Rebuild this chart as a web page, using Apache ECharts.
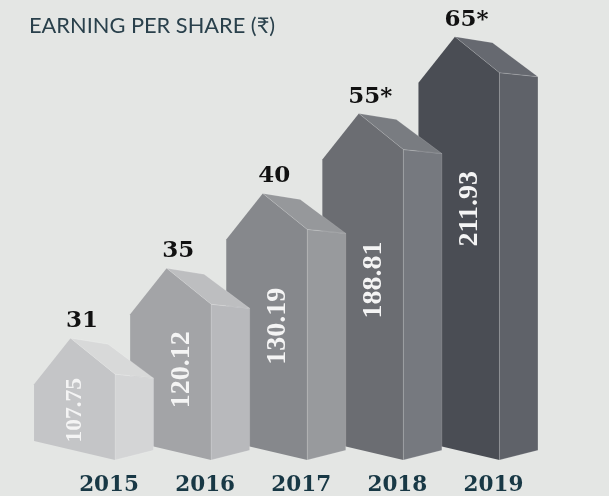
<!DOCTYPE html>
<html>
<head>
<meta charset="utf-8">
<script src="https://cdn.jsdelivr.net/npm/echarts@6/dist/echarts.min.js"></script>
<style>
html,body{margin:0;padding:0;background:#e4e6e4;}
#chart{width:609px;height:496px;}
</style>
</head>
<body>
<div id="chart"></div>
<script>
// ---- data ----
const years = ['2015', '2016', '2017', '2018', '2019'];
const epsValues = [107.75, 120.12, 130.19, 188.81, 211.93];
const topValues = [31, 35, 40, 55, 65];
const topMarks = ['', '', '', '*', '*'];
const houseHeights = [86, 156, 231, 311, 388];

// ---- styles ----
const frontColors = ['#c4c5c7', '#a3a4a7', '#86888c', '#6b6d72', '#4a4d54'];
const sideColors  = ['#d4d5d6', '#b8b9bc', '#989a9d', '#76797f', '#5f6269'];
const roofColors  = ['#d8d9d9', '#bdbec0', '#96989b', '#797c81', '#666970'];

const chart = echarts.init(document.getElementById('chart'), null, {renderer: 'canvas'});

function renderHouse(params, api) {
  const i = api.value(0);
  const h = api.value(1);
  const top = api.coord([i, h]);
  const base = api.coord([i, 0]);
  const bw = api.size([1, 0])[0];
  const s = bw / 96.1;
  const xr = top[0] + 6 * s;
  const ye = top[1];
  const yb = base[1];
  const hp = yb - ye;
  const fw = 81 * s, sw = 38.5 * s;
  const zb = (5 - i) * 10;
  const edge = 'rgba(255,255,255,0.22)';

  const front = [[xr - fw, yb - 19], [xr - fw, ye + 10], [xr - 44.5 * s, ye - 36], [xr, ye], [xr, yb]];
  const side = [[xr, ye], [xr + sw, ye + 4], [xr + sw, yb - 9.7], [xr, yb]];
  const roof = [[xr - 44.5 * s, ye - 36], [xr - 7 * s, ye - 30], [xr + sw, ye + 4], [xr, ye]];

  const small = hp < 100;
  const fs = small ? 23.5 : 28;
  const tx = xr - fw / 2 + (small ? 0 : 11 * s);
  const ty = ye + Math.min(0.42 * hp, 136);

  return {
    type: 'group',
    children: [
      {type: 'polygon', z2: zb + 1, shape: {points: front}, style: {fill: frontColors[i], stroke: null}},
      {type: 'polygon', z2: zb + 2, shape: {points: side}, style: {fill: sideColors[i], stroke: edge, lineWidth: 0.7}},
      {type: 'polygon', z2: zb + 3, shape: {points: roof}, style: {fill: roofColors[i], stroke: edge, lineWidth: 0.7}},
      {type: 'text', z2: zb + 5, x: tx, y: ty, rotation: Math.PI / 2,
        style: {text: epsValues[i].toFixed(2), x: 0, y: 0, align: 'center', verticalAlign: 'middle',
          fill: '#f4f4f4', font: 'bold ' + fs + 'px "Liberation Serif"'}},
      {type: 'text', z2: zb + 6,
        style: {text: topValues[i] + topMarks[i], x: xr - 33 * s, y: ye - 53, align: 'center', verticalAlign: 'middle',
          fill: '#111111', font: 'bold 23px "DejaVu Serif"'}}
    ]
  };
}

chart.setOption({
  backgroundColor: '#e4e6e4',
  animation: false,
  title: {
    text: 'EARNING PER SHARE (₹)',
    left: 29, top: 15, padding: 0,
    textStyle: {fontFamily: 'Lato', fontSize: 21.8, fontWeight: 'normal', color: '#29404b'}
  },
  grid: {left: 61, right: 67.5, top: 60.7, bottom: 35.3},
  xAxis: {
    type: 'category',
    data: years,
    axisLine: {show: false}, axisTick: {show: false}, splitLine: {show: false},
    axisLabel: {
      margin: 25, verticalAlign: 'middle',
      fontFamily: 'DejaVu Serif', fontWeight: 'bold', fontSize: 21.5, color: '#183845'
    }
  },
  yAxis: {type: 'value', min: 0, max: 400, show: false},
  series: [{
    type: 'custom',
    renderItem: renderHouse,
    data: houseHeights.map((h, i) => [i, h]),
    encode: {x: 0, y: 1}
  }]
});
</script>
</body>
</html>
